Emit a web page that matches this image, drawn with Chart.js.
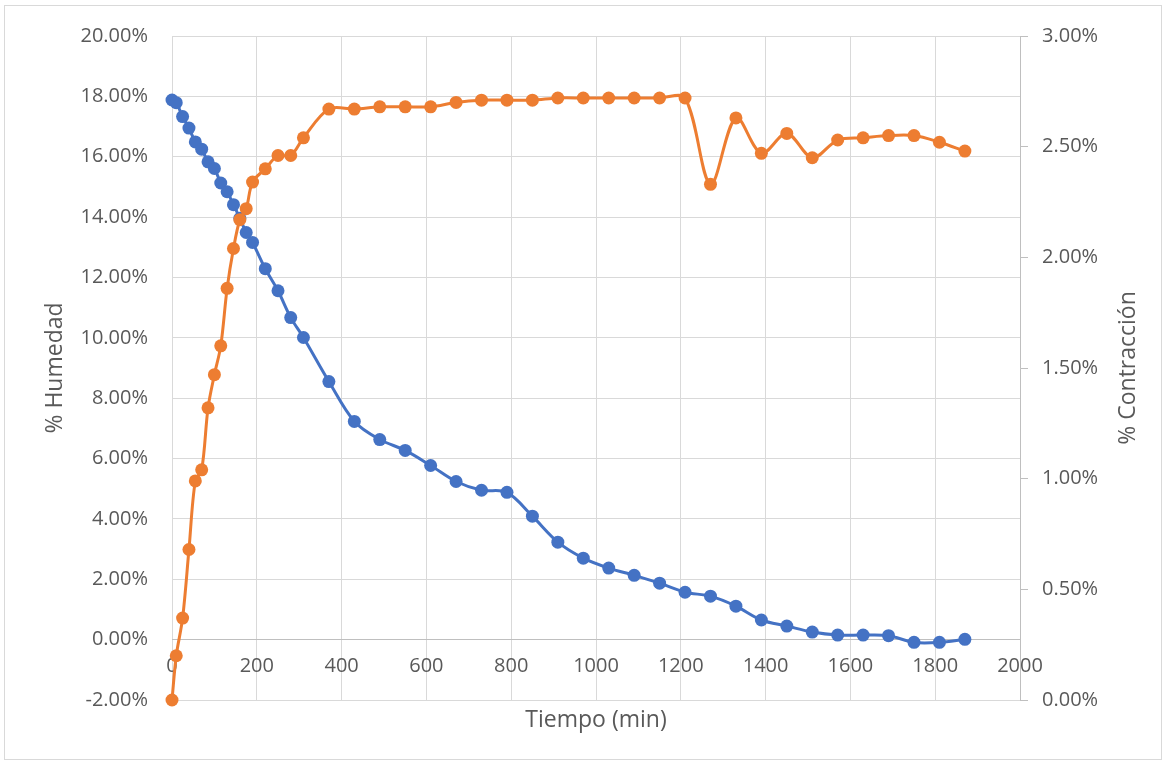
<!DOCTYPE html>
<html>
<head>
<meta charset="utf-8">
<script src="https://cdn.jsdelivr.net/npm/chart.js@4"></script>
<style>
  html, body { margin: 0; padding: 0; background: #fff; }
  canvas { display: block; }
</style>
</head>
<body>
<canvas id="chart_humedad" width="1167" height="765"></canvas>
<script>
// tiempo en minutos
const tiempo = [0, 10, 25, 40, 55, 70, 85, 100, 115, 130, 145, 160, 175, 190,
    220, 250, 280, 310,
    370, 430, 490, 550, 610, 670, 730, 790, 850, 910, 970, 1030, 1090, 1150,
    1210, 1270, 1330, 1390, 1450, 1510, 1570, 1630, 1690, 1750, 1810, 1870];

// % humedad (eje izquierdo)
const humedad = [17.88, 17.79, 17.33, 16.95, 16.49, 16.25, 15.83, 15.61, 15.13, 14.84, 14.41, 13.96, 13.49, 13.16,
    12.29, 11.56, 10.67, 10.01,
    8.55, 7.23, 6.63, 6.27, 5.77, 5.24, 4.95, 4.88, 4.09, 3.23, 2.70, 2.37, 2.13, 1.87,
    1.57, 1.44, 1.11, 0.65, 0.45, 0.25, 0.15, 0.15, 0.13, -0.09, -0.09, 0.01];

// % contraccion (eje derecho)
const contraccion = [0.00, 0.20, 0.37, 0.68, 0.99, 1.04, 1.32, 1.47, 1.60, 1.86, 2.04, 2.17, 2.22, 2.34,
    2.40, 2.46, 2.46, 2.54,
    2.67, 2.67, 2.68, 2.68, 2.68, 2.70, 2.71, 2.71, 2.71, 2.72, 2.72, 2.72, 2.72, 2.72,
    2.72, 2.33, 2.63, 2.47, 2.56, 2.45, 2.53, 2.54, 2.55, 2.55, 2.52, 2.48];

const textColor = '#595959';
const gridColor = '#d9d9d9';
const axisColor = '#bfbfbf';
const fontFamily = '"Open Sans", sans-serif';

const toPoints = (xs, ys) => xs.map((x, i) => ({ x: x, y: ys[i] }));

const frame = {
    id: 'frame',
    beforeDraw: chart => {
        const ctx = chart.ctx;
        ctx.save();
        ctx.fillStyle = '#fff';
        ctx.fillRect(0, 0, chart.width, chart.height);
        ctx.strokeStyle = gridColor;
        ctx.lineWidth = 1;
        ctx.strokeRect(4.5, 5.5, 1157, 754);
        ctx.restore();
    },
    afterDraw: chart => {
        // titulo del eje derecho, leido de abajo hacia arriba
        const ctx = chart.ctx;
        const area = chart.chartArea;
        ctx.save();
        ctx.translate(1128, (area.top + area.bottom) / 2);
        ctx.rotate(-Math.PI / 2);
        ctx.font = '23px ' + fontFamily;
        ctx.fillStyle = textColor;
        ctx.textAlign = 'center';
        ctx.textBaseline = 'middle';
        ctx.fillText('% Contracción', 0, 0);
        ctx.restore();
    }
};

const data = {
    datasets: [{
        label: '% Contracción',
        data: toPoints(tiempo, contraccion),
        yAxisID: 'y1',
        xAxisID: 'x',
        borderColor: '#ED7D31',
        backgroundColor: '#ED7D31',
        borderWidth: 3,
        pointRadius: 6.5,
        pointBorderWidth: 0,
        tension: 0.33,
        clip: false,
        order: 0
    }, {
        label: '% Humedad',
        data: toPoints(tiempo, humedad),
        yAxisID: 'y',
        xAxisID: 'x',
        borderColor: '#4472C4',
        backgroundColor: '#4472C4',
        borderWidth: 3,
        pointRadius: 6.5,
        pointBorderWidth: 0,
        tension: 0.33,
        clip: false,
        order: 1
    }]
};

const config_humedad = {
    type: 'line',
    data,
    plugins: [frame],
    options: {
        responsive: false,
        animation: false,
        devicePixelRatio: 1,
        layout: { padding: { top: 35, left: 0, right: 0, bottom: 0 } },
        plugins: {
            legend: { display: false },
            tooltip: { enabled: false }
        },
        scales: {
            x: {
                type: 'linear',
                position: { y: 0 },
                min: 0,
                max: 2000,
                ticks: {
                    stepSize: 200,
                    color: textColor,
                    font: { family: fontFamily, size: 20 },
                    padding: 15,
                    maxRotation: 0,
                    callback: v => String(v)
                },
                grid: { color: gridColor, drawTicks: false },
                border: { color: axisColor, width: 1 }
            },
            x2: {
                type: 'linear',
                position: 'bottom',
                min: 0,
                max: 2000,
                ticks: { display: false },
                grid: { display: false },
                border: { display: false },
                title: {
                    display: true,
                    text: 'Tiempo (min)',
                    color: textColor,
                    font: { family: fontFamily, size: 23 },
                    padding: { top: 0, bottom: 31 }
                },
                afterFit: scale => { scale.height = 65; }
            },
            y: {
                position: 'left',
                min: -2,
                max: 20,
                ticks: {
                    stepSize: 2,
                    color: textColor,
                    font: { family: fontFamily, size: 20 },
                    padding: 24,
                    callback: v => v.toFixed(2) + '%'
                },
                grid: { color: gridColor, drawTicks: false },
                border: { display: false },
                title: {
                    display: true,
                    text: '% Humedad',
                    color: textColor,
                    font: { family: fontFamily, size: 23 },
                    padding: { top: 42, bottom: 0 }
                },
                afterFit: scale => { scale.width = 172; }
            },
            y1: {
                position: 'right',
                min: 0,
                max: 3,
                ticks: {
                    stepSize: 0.5,
                    color: textColor,
                    font: { family: fontFamily, size: 20 },
                    padding: 14,
                    callback: v => v.toFixed(2) + '%'
                },
                grid: { drawOnChartArea: false, color: axisColor, tickLength: 8 },
                border: { color: axisColor, width: 1 },
                afterFit: scale => { scale.width = 147; }
            }
        }
    }
};

const myChart_humedad = new Chart(document.getElementById('chart_humedad'), config_humedad);
</script>
</body>
</html>
